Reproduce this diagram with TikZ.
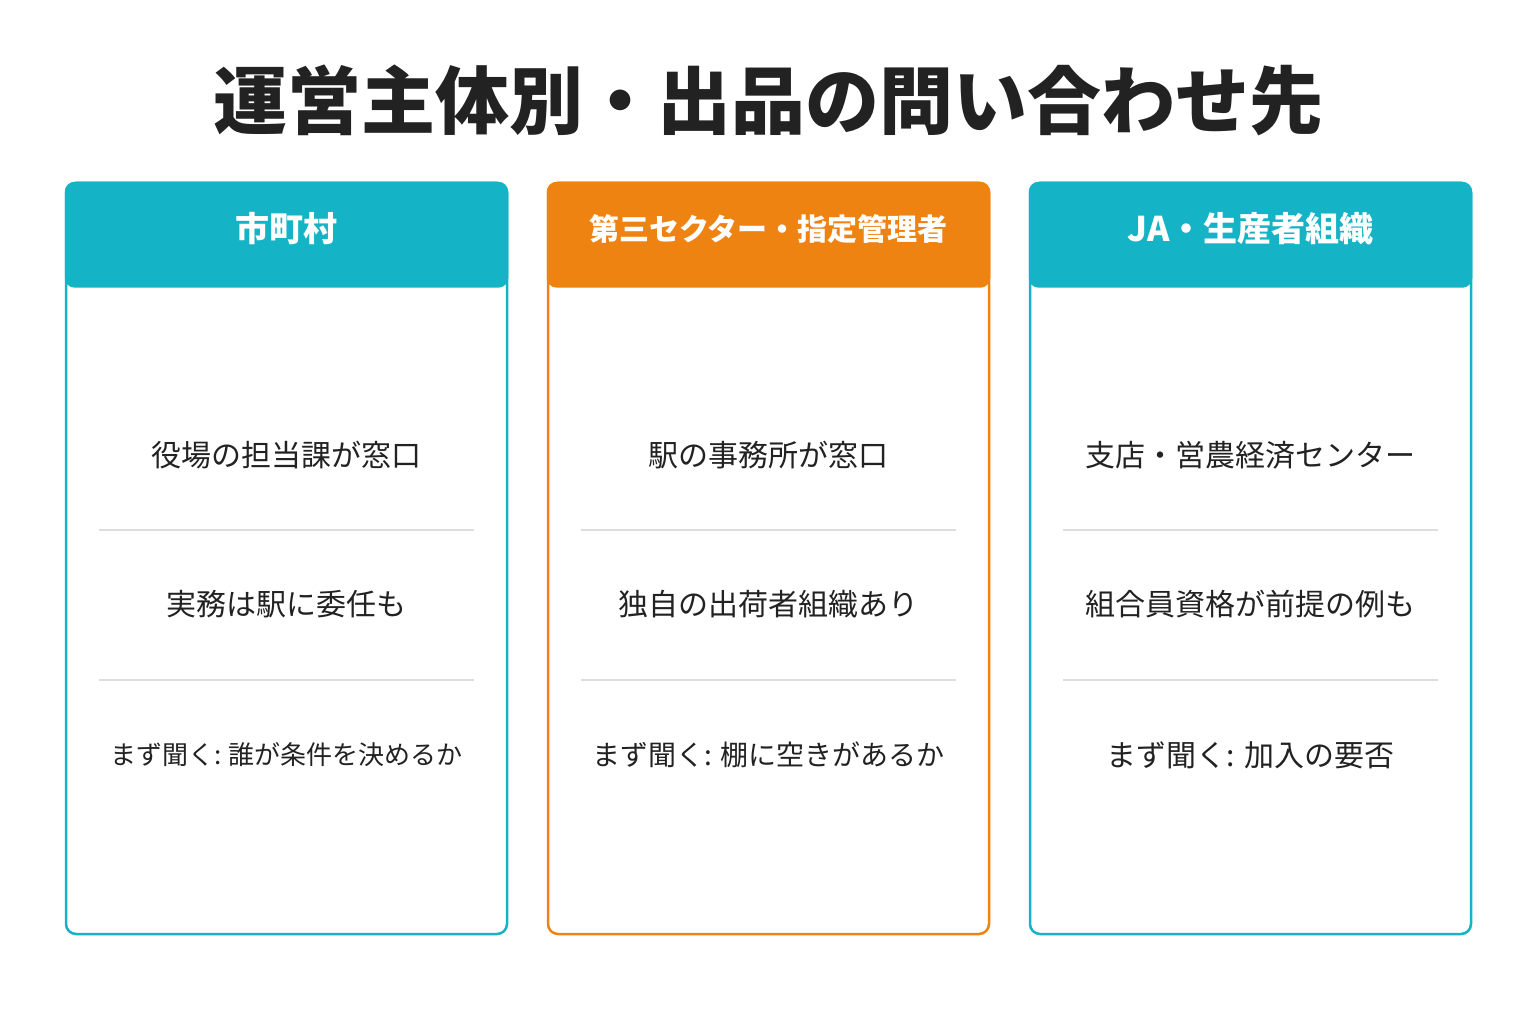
\documentclass[tikz,border=0pt]{standalone}
\usepackage{fontspec}
\setmainfont{Noto Sans CJK JP}
\definecolor{teal}{HTML}{15B3C6}
\definecolor{orng}{HTML}{EF8311}
\definecolor{sep}{HTML}{DDDDDD}
\definecolor{ink}{HTML}{222222}
\begin{document}
\begin{tikzpicture}[x=1pt,y=-1pt,
  card/.style={draw=#1,line width=2.5pt,fill=white,rounded corners=10pt},
  head/.style={fill=#1,rounded corners=10pt},
  htext/.style={text=white,font=\bfseries\fontsize{34}{40}\selectfont},
  item/.style={text=ink,font=\fontsize{30}{36}\selectfont},
  sepl/.style={draw=sep,line width=1.5pt}]
\useasboundingbox (0,0) rectangle (1536,1024);
\node[text=ink,font=\bfseries\fontsize{74}{84}\selectfont] (title) at (768,100) {運営主体別・出品の問い合わせ先};
\foreach \x/\c/\n in {66/teal/a,548/orng/b,1030/teal/c}{
  \draw[card=\c] (\x,183) rectangle ++(441,751);
  \fill[head=\c] (\x-1.25,181.75) rectangle ++(443.5,106);
  \draw[sepl] (\x+33,530) -- ++(375,0);
  \draw[sepl] (\x+33,680) -- ++(375,0);
}
\node[htext] (ha) at (286.5,229) {市町村};
\node[htext,font=\bfseries\fontsize{30}{36}\selectfont] (hb) at (768.5,229) {第三セクター・指定管理者};
\node[htext] (hc) at (1250.5,229) {JA・生産者組織};
\node[item] (a1) at (286.5,455) {役場の担当課が窓口};
\node[item] (a2) at (286.5,604) {実務は駅に委任も};
\node[item,font=\fontsize{26}{32}\selectfont] (a3) at (286.5,755) {まず聞く: 誰が条件を決めるか};
\node[item] (b1) at (768.5,455) {駅の事務所が窓口};
\node[item] (b2) at (768.5,604) {独自の出荷者組織あり};
\node[item,font=\fontsize{28}{34}\selectfont] (b3) at (768.5,755) {まず聞く: 棚に空きがあるか};
\node[item] (c1) at (1250.5,455) {支店・営農経済センター};
\node[item] (c2) at (1250.5,604) {組合員資格が前提の例も};
\node[item] (c3) at (1250.5,755) {まず聞く: 加入の要否};
\end{tikzpicture}
\end{document}
